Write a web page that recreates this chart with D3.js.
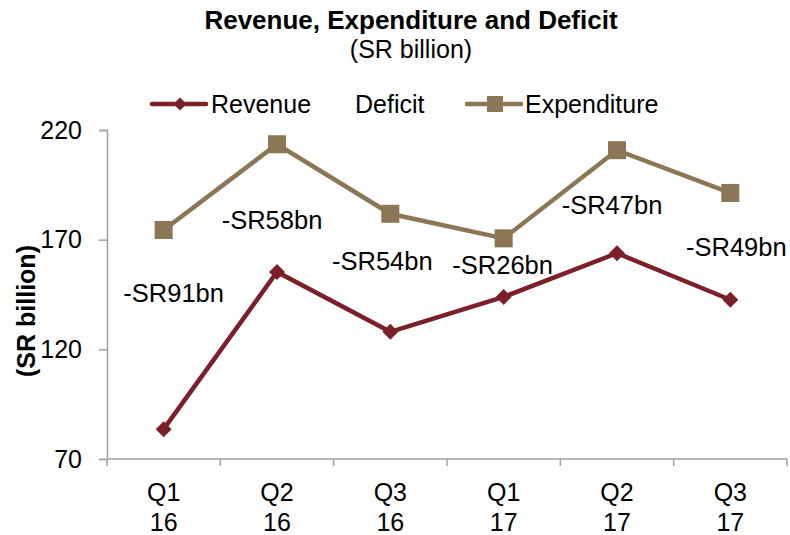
<!DOCTYPE html>
<html><head><meta charset="utf-8">
<script src="https://cdn.jsdelivr.net/npm/d3@7/dist/d3.min.js"></script>
<style>body{margin:0;background:#fff}text{font-family:"Liberation Sans",Arial,sans-serif;fill:#000}</style>
</head><body><svg id="c" width="790" height="535"></svg>
<script>
const quarters = ["Q1", "Q2", "Q3", "Q1", "Q2", "Q3"];
const years = ["16", "16", "16", "17", "17", "17"];
const revenue = [83.6, 155.3, 128.0, 143.9, 163.8, 142.6];
const expenditure = [174.4, 213.5, 181.8, 170.6, 210.8, 191.3];
const deficitLabels = ["-SR91bn", "-SR58bn", "-SR54bn", "-SR26bn", "-SR47bn", "-SR49bn"];
const deficitLabelLevel = [145.7, 178.9, 160.2, 158.4, 185.8, 166.6];
const deficitLabelShift = [10, -5, -8, -1, -5, 6];
const yTicks = [70, 120, 170, 220];

const svg = d3.select("#c");
const m = {l:107, r:787, t:130, b:459};
const x = d3.scaleBand().domain(d3.range(6)).range([m.l, m.r]);
const y = d3.scaleLinear().domain([70, 220]).range([m.b, m.t]);
const cx = i => x(i) + x.bandwidth()/2;
const revCol = "#7b2029", expCol = "#8b7755", axCol = "#a0a0a0";

// title
svg.append("text").attr("x", 411).attr("y", 29).attr("text-anchor","middle")
  .style("font-weight","bold").style("font-size","26px").text("Revenue, Expenditure and Deficit");
svg.append("text").attr("x", 411).attr("y", 58).attr("text-anchor","middle")
  .style("font-size","25px").text("(SR billion)");

// y axis
const yAx = svg.append("g").attr("transform",`translate(${m.l},0)`)
  .call(d3.axisLeft(y).tickValues(yTicks).tickSize(8).tickPadding(17));
yAx.select(".domain").attr("stroke", axCol).attr("stroke-width",1.5);
yAx.selectAll(".tick line").attr("stroke", axCol).attr("stroke-width",1.5);
yAx.selectAll(".tick text").style("font-size","25px").attr("fill","#000")
  .style("font-family","'Liberation Sans',Arial,sans-serif");

// x axis
const xAx = svg.append("g").attr("transform",`translate(0,${m.b})`);
xAx.append("line").attr("x1", m.l).attr("x2", m.r).attr("stroke", axCol).attr("stroke-width",1.5);
const bounds = d3.range(7).map(i => i < 6 ? x(i) : x(5) + x.bandwidth());
xAx.selectAll("line.t").data(bounds).enter().append("line").attr("class","t")
  .attr("x1", d=>d).attr("x2", d=>d).attr("y1",0).attr("y2",7).attr("stroke", axCol).attr("stroke-width",1.5);
const xl = xAx.selectAll("text.q").data(quarters).enter().append("text")
  .attr("text-anchor","middle").style("font-size","25px")
  .attr("x",(d,i)=>cx(i));
xl.append("tspan").attr("x",(d,i)=>cx(i)).attr("y",42).text(d=>d);
xl.append("tspan").attr("x",(d,i)=>cx(i)).attr("y",72).text((d,i)=>years[i]);

// y title
svg.append("text").attr("transform","translate(35,311) rotate(-90)").attr("text-anchor","middle")
  .style("font-weight","bold").style("font-size","25px").text("(SR billion)");

// lines
const line = d3.line().x((d,i)=>cx(i)).y(d=>y(d));
svg.append("path").datum(expenditure).attr("d", line).attr("fill","none").attr("stroke",expCol).attr("stroke-width",4.5);
svg.append("path").datum(revenue).attr("d", line).attr("fill","none").attr("stroke",revCol).attr("stroke-width",4.5);
svg.selectAll("rect.e").data(expenditure).enter().append("rect").attr("class","e")
  .attr("x",(d,i)=>cx(i)-9).attr("y",d=>y(d)-9).attr("width",18).attr("height",18).attr("fill",expCol);
const diamond = d3.symbol().type(d3.symbolDiamond2).size(162);
svg.selectAll("path.r").data(revenue).enter().append("path").attr("class","r")
  .attr("d", diamond).attr("transform",(d,i)=>`translate(${cx(i)},${y(d)})`).attr("fill",revCol);

// deficit labels
svg.selectAll("text.d").data(deficitLabels).enter().append("text").attr("class","d")
  .attr("x",(d,i)=>cx(i)+deficitLabelShift[i]).attr("y",(d,i)=>y(deficitLabelLevel[i])+9)
  .attr("text-anchor","middle").style("font-size","25.5px").text(d=>d);

// legend
const lg = svg.append("g");
const legDiamond = d3.symbol().type(d3.symbolDiamond2).size(110);
lg.append("line").attr("x1",152).attr("x2",206).attr("y1",104).attr("y2",104).attr("stroke",revCol).attr("stroke-width",4.5).attr("stroke-linecap","round");
lg.append("path").attr("d", legDiamond).attr("transform","translate(180,104)").attr("fill",revCol);
lg.append("text").attr("x",211).attr("y",113).style("font-size","25px").text("Revenue");
lg.append("text").attr("x",355).attr("y",113).style("font-size","25px").text("Deficit");
lg.append("line").attr("x1",467).attr("x2",521).attr("y1",104).attr("y2",104).attr("stroke",expCol).attr("stroke-width",4.5).attr("stroke-linecap","round");
lg.append("rect").attr("x",487).attr("y",96).attr("width",16).attr("height",16).attr("fill",expCol);
lg.append("text").attr("x",525).attr("y",113).style("font-size","25px").text("Expenditure");
</script></body></html>
